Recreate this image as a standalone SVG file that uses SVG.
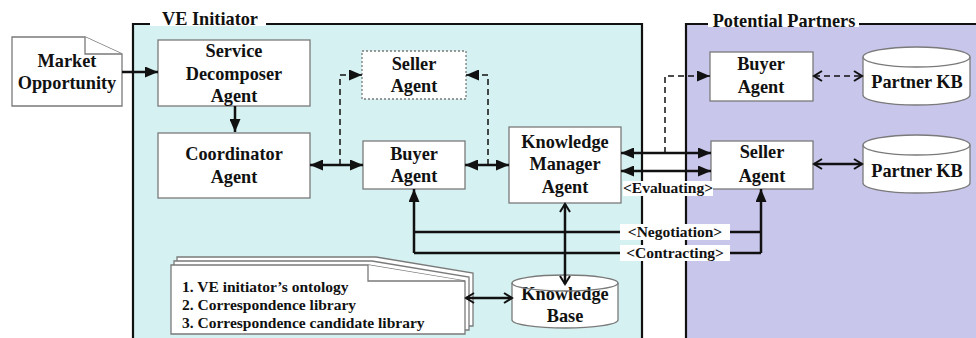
<svg xmlns="http://www.w3.org/2000/svg" width="976" height="338" viewBox="0 0 976 338">
<style>
.t{font-family:"Liberation Serif","Times New Roman",serif;font-weight:bold;font-size:18.3px;fill:#111;text-anchor:middle}
.s{font-family:"Liberation Serif","Times New Roman",serif;font-weight:bold;font-size:15.5px;fill:#111}
.box{fill:#fff;stroke:#7a7a7a;stroke-width:1.3}
.frame{fill:none;stroke:#111;stroke-width:2.2}
.c{fill:none;stroke:#111;stroke-width:2.5}
.d{fill:none;stroke:#111;stroke-width:1.5;stroke-dasharray:6,4}
.lbl{fill:#fff}
</style>
<defs>
<marker id="a" markerUnits="userSpaceOnUse" markerWidth="13" markerHeight="11" refX="13" refY="5.5" orient="auto-start-reverse" viewBox="0 0 13 11">
<path d="M0,0 L13,5.5 L0,11 z" fill="#111"/>
</marker>
<marker id="v" markerUnits="userSpaceOnUse" markerWidth="12" markerHeight="12" refX="10" refY="6" orient="auto-start-reverse" viewBox="0 0 12 12">
<path d="M2,1 L10,6 L2,11" fill="none" stroke="#111" stroke-width="2"/>
</marker>
</defs>

<!-- containers -->
<g id="ve-initiator">
<rect x="133" y="24" width="509" height="320" fill="#d5f1f1"/>
<path class="frame" d="M133,340 V24 H642 V340"/>
<rect x="150" y="8" width="116" height="18" fill="#fff"/>
<text class="t" x="210" y="25">VE Initiator</text>
</g>
<g id="potential-partners">
<rect x="686" y="24" width="295" height="320" fill="#c9c6ec"/>
<path class="frame" d="M686,340 V24 H980"/>
<rect x="708" y="10" width="151" height="17" fill="#fff"/>
<text class="t" x="784" y="27">Potential Partners</text>
</g>

<!-- nodes -->
<g id="market-opportunity">
<path class="box" d="M12,37 H85 L122,54 V106 H12 Z"/>
<path class="box" d="M85,37 V54 H122" fill="none"/>
<text class="t" x="67" y="67">Market</text>
<text class="t" x="67" y="89">Opportunity</text>
</g>
<g id="service-decomposer">
<rect class="box" x="158" y="40" width="152" height="66"/>
<text class="t" x="234" y="57">Service</text>
<text class="t" x="234" y="80">Decomposer</text>
<text class="t" x="234" y="102">Agent</text>
</g>
<g id="coordinator">
<rect class="box" x="158" y="133" width="152" height="65"/>
<text class="t" x="234" y="160">Coordinator</text>
<text class="t" x="234" y="183">Agent</text>
</g>
<g id="ve-seller">
<rect class="box" x="362" y="51" width="104" height="48" stroke-dasharray="2,2"/>
<text class="t" x="414" y="70">Seller</text>
<text class="t" x="414" y="92">Agent</text>
</g>
<g id="ve-buyer">
<rect class="box" x="363" y="141" width="102" height="48"/>
<text class="t" x="414" y="160">Buyer</text>
<text class="t" x="414" y="182">Agent</text>
</g>
<g id="knowledge-manager">
<rect class="box" x="509" y="127" width="112" height="76"/>
<text class="t" x="565" y="148">Knowledge</text>
<text class="t" x="565" y="170">Manager</text>
<text class="t" x="565" y="193">Agent</text>
</g>
<g id="partner-buyer">
<rect class="box" x="710" y="52" width="103" height="49"/>
<text class="t" x="761" y="70">Buyer</text>
<text class="t" x="761" y="93">Agent</text>
</g>
<g id="partner-seller">
<rect class="box" x="711" y="141" width="102" height="48"/>
<text class="t" x="762" y="158">Seller</text>
<text class="t" x="762" y="182">Agent</text>
</g>
<g id="partner-kb-1">
<path class="box" d="M863,57 V95 A53.5,10 0 0 0 970,95 V57"/>
<ellipse class="box" cx="916.5" cy="57" rx="53.5" ry="10"/>
<text class="t" x="917" y="88">Partner KB</text>
</g>
<g id="partner-kb-2">
<path class="box" d="M863,145 V183 A53.5,10 0 0 0 970,183 V145"/>
<ellipse class="box" cx="916.5" cy="145" rx="53.5" ry="10"/>
<text class="t" x="917" y="177">Partner KB</text>
</g>
<g id="documents">
<path class="box" d="M177,257 H376 L473,273 V326 H177 Z"/>
<path class="box" d="M174,261 H372 L469,277 V330 H174 Z"/>
<path class="box" d="M171,265 H368 L465,281 V334 H171 Z"/>
<path class="box" d="M368,265 V281 H465" fill="none"/>
<text class="s" x="182" y="292">1. VE initiator’s ontology</text>
<text class="s" x="182" y="310">2. Correspondence library</text>
<text class="s" x="182" y="328">3. Correspondence candidate library</text>
</g>
<g id="knowledge-base">
<path class="box" d="M512,283 V320 A53,8 0 0 0 618,320 V283"/>
<path d="M512,283 A53,8 0 0 1 618,283" fill="#fff" stroke="#7a7a7a" stroke-width="1.3"/>
<text class="t" x="565" y="300">Knowledge</text>
<text class="t" x="565" y="322">Base</text>
<path d="M512,283 A53,8 0 0 0 618,283" fill="none" stroke="#7a7a7a" stroke-width="1.3"/>
</g>

<!-- connectors -->
<g id="connectors">
<path class="c" d="M122,72 H158" marker-end="url(#a)"/>
<path class="c" d="M235,106 V132" marker-end="url(#a)"/>
<path class="c" d="M310,165 H363" marker-start="url(#a)" marker-end="url(#a)"/>
<path class="d" d="M340,165 V75 H362" marker-end="url(#a)"/>
<path class="c" d="M465,165 H509" marker-start="url(#a)" marker-end="url(#a)"/>
<path class="d" d="M488,165 V75 H466" marker-end="url(#a)"/>
<path class="c" d="M621,153 H711" marker-start="url(#a)" marker-end="url(#a)"/>
<path class="c" d="M621,171 H711" marker-start="url(#a)" marker-end="url(#a)"/>
<path class="d" d="M665,153 V76 H710" marker-end="url(#a)"/>
<path class="d" d="M814,76 H862" marker-start="url(#v)" marker-end="url(#v)"/>
<path class="c" d="M814,164 H862" stroke-width="2" marker-start="url(#v)" marker-end="url(#v)"/>
<path class="c" d="M565,204 V284" stroke-width="2" marker-start="url(#v)" marker-end="url(#v)"/>
<path class="c" d="M466,298 H512" stroke-width="2" marker-start="url(#v)" marker-end="url(#v)"/>
<path class="c" d="M414,253 V189" marker-end="url(#a)"/>
<path class="c" d="M414,232 H761"/>
<path class="c" d="M414,253 H761"/>
<path class="c" d="M761,253 V189" marker-end="url(#a)"/>
<rect class="lbl" x="623" y="181" width="90" height="15"/>
<text class="s" x="668" y="193" text-anchor="middle">&lt;Evaluating&gt;</text>
<rect class="lbl" x="620" y="224" width="110" height="16"/>
<text class="s" x="675" y="237" text-anchor="middle">&lt;Negotiation&gt;</text>
<rect class="lbl" x="620" y="245" width="110" height="16"/>
<text class="s" x="675" y="258" text-anchor="middle">&lt;Contracting&gt;</text>
</g>
</svg>
